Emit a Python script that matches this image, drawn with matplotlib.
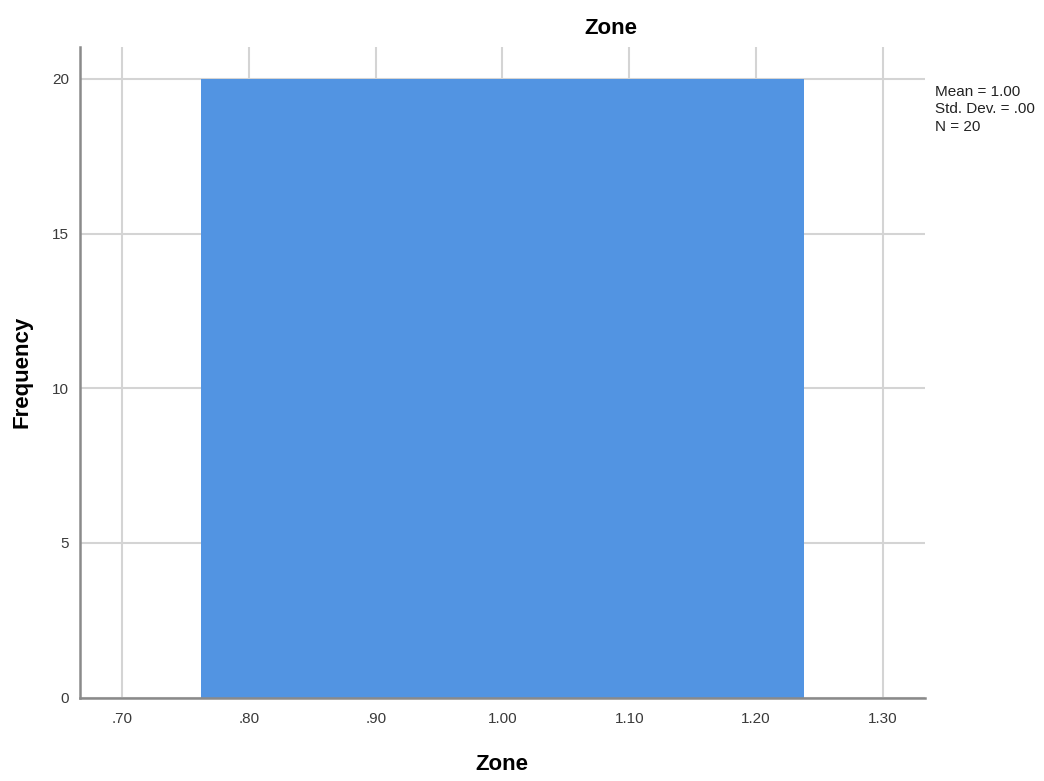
import matplotlib
matplotlib.use("Agg")
import matplotlib.pyplot as plt

plt.rcParams['font.family'] = ['Liberation Sans', 'DejaVu Sans']

# Data: 20 observations of Zone, all equal to 1
zone = [1, 1, 1, 1, 1, 1, 1, 1, 1, 1, 1, 1, 1, 1, 1, 1, 1, 1, 1, 1]
bin_edges = [0.7625, 1.2375]
x_ticks = [0.70, 0.80, 0.90, 1.00, 1.10, 1.20, 1.30]
x_tick_labels = [".70", ".80", ".90", "1.00", "1.10", "1.20", "1.30"]
y_ticks = [0, 5, 10, 15, 20]
stats_text = "Mean = 1.00\nStd. Dev. = .00\nN = 20"

fig = plt.figure(figsize=(10.44, 7.81), dpi=100)
ax = fig.add_axes([80/1044, 1-697.7/781, (925-80)/1044, (697.7-47)/781])

ax.hist(zone, bins=bin_edges, color="#5294e2", edgecolor="none", zorder=3)

ax.set_xlim(0.6667, 1.3333)
ax.set_ylim(0, 21.03)
ax.set_xticks(x_ticks)
ax.set_xticklabels(x_tick_labels)
ax.set_yticks(y_ticks)
ax.grid(True, color="#d4d4d4", linewidth=1.5, zorder=0)
ax.set_axisbelow(True)

for s in ["top", "right"]:
    ax.spines[s].set_visible(False)
for s in ["left", "bottom"]:
    ax.spines[s].set_color("#8a8a8a")
    ax.spines[s].set_linewidth(1.8)
    ax.spines[s].set_zorder(4)

ax.tick_params(axis="both", length=0, labelsize=11, colors="#3a3a3a")
ax.tick_params(axis="x", pad=10)
ax.tick_params(axis="y", pad=8)

fig.text(611/1044, 1-28/781, "Zone", fontsize=16, fontweight="bold",
         ha="center", va="center")
fig.text(502/1044, 1-765/781, "Zone", fontsize=16, fontweight="bold",
         ha="center", va="center")
fig.text(22/1044, 1-372/781, "Frequency", fontsize=16, fontweight="bold",
         ha="center", va="center", rotation=90)

fig.text(935/1044, 1-85/781, stats_text, fontsize=11, va="top", ha="left",
         color="#222222", linespacing=1.3)

fig.savefig("out.png", dpi=100, facecolor="white")
